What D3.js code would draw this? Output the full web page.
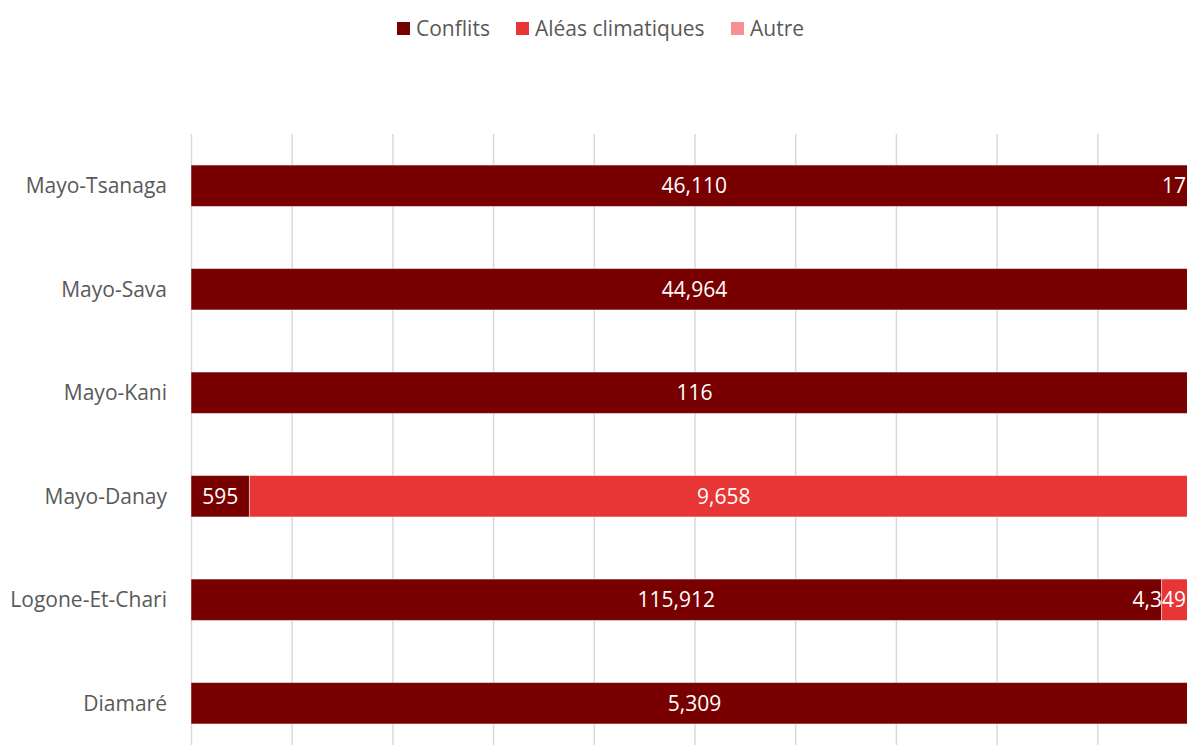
<!DOCTYPE html>
<html>
<head>
<meta charset="utf-8">
<script src="https://cdn.jsdelivr.net/npm/d3@7"></script>
<style>
  body { margin: 0; background: #fff; }
  svg { font-family: "Open Sans", Lato, sans-serif; }
  .cat-label { fill: #595959; font-size: 21px; }
  .legend-text { fill: #595959; font-size: 21px; }
  .bar-label { fill: #fff; font-size: 21px; }
</style>
</head>
<body>
<div class="chart"></div>
<script>
// chart data
var categories = ["Mayo-Tsanaga", "Mayo-Sava", "Mayo-Kani", "Mayo-Danay", "Logone-Et-Chari", "Diamaré"];
var seriesNames = ["Conflits", "Aléas climatiques", "Autre"];
var conflits = [46110, 44964, 116, 595, 115912, 5309];
var aleas = [17, 0, 0, 9658, 4349, 0];
var autre = [0, 0, 0, 0, 0, 0];
var colors = ["#780000", "#E83535", "#F79191"];

var svgWidth = 1187;
var svgHeight = 745;

var plot = { left: 191, right: 1198, top: 134, bottom: 755 };

var svg = d3.select(".chart")
  .append("svg")
  .attr("width", svgWidth)
  .attr("height", svgHeight);

// build rows for the stack
var rows = categories.map(function(c, i) {
  return { cat: c, "Conflits": conflits[i], "Aléas climatiques": aleas[i], "Autre": autre[i] };
});
var stacked = d3.stack().keys(seriesNames).offset(d3.stackOffsetExpand)(rows);

var x = d3.scaleLinear().domain([0, 1]).range([plot.left, plot.right]);
var y = d3.scaleBand()
  .domain(categories)
  .range([plot.top, plot.bottom])
  .paddingInner(0.6)
  .paddingOuter(0.3);

// gridlines
var grid = svg.append("g")
  .attr("transform", "translate(0," + plot.bottom + ")")
  .call(d3.axisBottom(x).tickValues(d3.range(0, 1.01, 0.1)).tickSize(-(plot.bottom - plot.top)).tickFormat(""));
grid.select(".domain").remove();
grid.selectAll(".tick line").attr("stroke", "#D9D9D9").attr("stroke-width", 1.5);

// bars
var layers = svg.append("g").selectAll("g")
  .data(stacked)
  .enter()
  .append("g")
  .attr("fill", function(d, i) { return colors[i]; });

layers.selectAll("rect")
  .data(function(d) { return d; })
  .enter()
  .append("rect")
  .attr("x", function(d) { return x(d[0]); })
  .attr("y", function(d) { return y(d.data.cat); })
  .attr("width", function(d) { return Math.max(0, x(d[1]) - x(d[0])); })
  .attr("height", y.bandwidth())
  .attr("stroke", "rgba(255,255,255,0.45)")
  .attr("stroke-width", 1);

// data labels, kept inside the picture at the right edge
layers.each(function(layer) {
  var key = layer.key;
  d3.select(this).selectAll("text")
    .data(layer.filter(function(d) { return d.data[key] > 0; }))
    .enter()
    .append("text")
    .attr("class", "bar-label")
    .attr("text-anchor", "middle")
    .attr("y", function(d) { return y(d.data.cat) + y.bandwidth() / 2; })
    .attr("dy", "0.35em")
    .text(function(d) { return d3.format(",")(d.data[key]); })
    .attr("x", function(d) {
      var cx = (x(d[0]) + x(d[1])) / 2;
      var w = this.getComputedTextLength();
      return Math.min(cx, 1186 - w / 2);
    });
});

// category labels
svg.append("g").selectAll("text")
  .data(categories)
  .enter()
  .append("text")
  .attr("class", "cat-label")
  .attr("x", 167)
  .attr("y", function(d) { return y(d) + y.bandwidth() / 2; })
  .attr("dy", "0.35em")
  .attr("text-anchor", "end")
  .text(function(d) { return d; });

// legend
var legendX = [397, 516, 731];
var legend = svg.append("g").selectAll("g")
  .data(seriesNames)
  .enter()
  .append("g")
  .attr("transform", function(d, i) { return "translate(" + legendX[i] + ",22)"; });
legend.append("rect")
  .attr("width", 13)
  .attr("height", 13)
  .attr("fill", function(d, i) { return colors[i]; });
legend.append("text")
  .attr("class", "legend-text")
  .attr("x", 19)
  .attr("y", 7)
  .attr("dy", "0.35em")
  .text(function(d) { return d; });
</script>
</body>
</html>
